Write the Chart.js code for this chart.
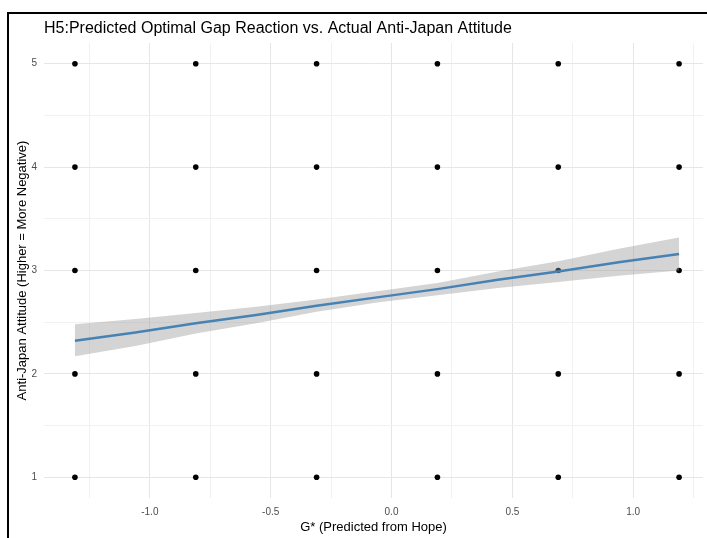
<!DOCTYPE html>
<html>
<head>
<meta charset="utf-8">
<script src="https://cdn.jsdelivr.net/npm/chart.js@4"></script>
<style>
  html, body { margin: 0; padding: 0; background: #fff; }
  #wrap { position: relative; width: 707px; height: 538px; overflow: hidden; }
  #frame { position: absolute; left: 7px; top: 12px; width: 710px; height: 540px;
           border-left: 2px solid #000; border-top: 2px solid #000; }
  #c { position: absolute; left: 0; top: 0; }
</style>
</head>
<body>
<div id="wrap">
  <div id="frame"></div>
  <canvas id="c" width="707" height="538"></canvas>
</div>
<script>
// ── Dados ──────────────────────────────────────────────────────────────────────
const gapLevels      = [-1.31, -0.81, -0.31, 0.19, 0.69, 1.19];   // G* (eixo x)
const attitudeLevels = [1, 2, 3, 4, 5];                             // atitude (eixo y)

// reta ajustada (lm) e faixa de confiança
const fitX    = [-1.31, -1.06, -0.81, -0.56, -0.31, -0.06, 0.19, 0.44, 0.69, 0.94, 1.19];
const fitY    = [2.32, 2.40, 2.49, 2.57, 2.66, 2.74, 2.82, 2.91, 2.99, 3.08, 3.16];
const fitLow  = [2.17, 2.27, 2.39, 2.49, 2.60, 2.69, 2.76, 2.83, 2.89, 2.95, 3.00];
const fitHigh = [2.48, 2.53, 2.59, 2.65, 2.72, 2.80, 2.88, 2.99, 3.09, 3.21, 3.32];

const xTicks = [-1.25, -1.0, -0.75, -0.5, -0.25, 0, 0.25, 0.5, 0.75, 1.0, 1.25];
const yTicks = [1, 1.5, 2, 2.5, 3, 3.5, 4, 4.5, 5];

const FONT  = "'Liberation Sans', Arial, sans-serif";
const TICK  = '#4d4d4d';
const MAJOR = '#e6e6e6';
const MINOR = '#f1f1f1';

const points = [];
gapLevels.forEach(x => attitudeLevels.forEach(y => points.push({ x, y })));
const toXY = ys => fitX.map((x, i) => ({ x, y: ys[i] }));

const isMajorX = v => Math.abs(v * 2 - Math.round(v * 2)) < 1e-9;

new Chart(document.getElementById('c'), {
  type: 'scatter',
  data: {
    datasets: [
      {
        label: 'fit',
        data: toXY(fitY),
        showLine: true,
        borderColor: '#4682b4',
        borderWidth: 2.5,
        pointRadius: 0,
        fill: false,
      },
      {
        label: 'upper',
        data: toXY(fitHigh),
        showLine: true,
        borderWidth: 0,
        borderColor: 'transparent',
        backgroundColor: 'rgba(153,153,153,0.42)',
        pointRadius: 0,
        fill: '+1',
      },
      {
        label: 'lower',
        data: toXY(fitLow),
        showLine: true,
        borderWidth: 0,
        borderColor: 'transparent',
        pointRadius: 0,
        fill: false,
      },
      {
        label: 'obs',
        data: points,
        backgroundColor: '#000',
        borderColor: '#000',
        pointRadius: 2.8,
        borderWidth: 0,
      },
    ],
  },
  options: {
    responsive: false,
    animation: false,
    layout: { padding: 0 },
    plugins: {
      legend: { display: false },
      tooltip: { enabled: false },
      title: {
        display: true,
        fullSize: false,
        align: 'start',
        text: 'H5:Predicted Optimal Gap Reaction vs. Actual Anti-Japan Attitude',
        color: '#000',
        font: { family: FONT, size: 16, weight: 'normal' },
        padding: { top: 19, bottom: 4.8 },
      },
    },
    scales: {
      x: {
        type: 'linear',
        min: -1.438,
        max: 1.289,
        afterBuildTicks: s => { s.ticks = xTicks.map(v => ({ value: v })); },
        afterFit: s => { s.height = 40; },
        ticks: {
          color: TICK,
          font: { family: FONT, size: 10 },
          padding: 8,
          maxRotation: 0,
          autoSkip: false,
          callback: v => (isMajorX(v) ? v.toFixed(1) : ''),
        },
        grid: {
          drawTicks: false,
          color: c => (isMajorX(c.tick.value) ? MAJOR : MINOR),
          lineWidth: 1,
        },
        border: { display: false },
        title: {
          display: true,
          text: 'G* (Predicted from Hope)',
          color: '#000',
          font: { family: FONT, size: 13 },
          padding: { top: 0, bottom: 3 },
        },
      },
      y: {
        type: 'linear',
        min: 0.8,
        max: 5.2,
        afterBuildTicks: s => { s.ticks = yTicks.map(v => ({ value: v })); },
        afterFit: s => { s.width = 44; },
        ticks: {
          color: TICK,
          font: { family: FONT, size: 10 },
          padding: 7,
          callback: v => (Number.isInteger(v) ? String(v) : ''),
        },
        grid: {
          drawTicks: false,
          color: c => (Number.isInteger(c.tick.value) ? MAJOR : MINOR),
          lineWidth: 1,
        },
        border: { display: false },
        title: {
          display: true,
          text: 'Anti-Japan Attitude (Higher = More Negative)',
          color: '#000',
          font: { family: FONT, size: 13 },
          padding: { top: 15, bottom: 0 },
        },
      },
    },
  },
});
</script>
</body>
</html>
